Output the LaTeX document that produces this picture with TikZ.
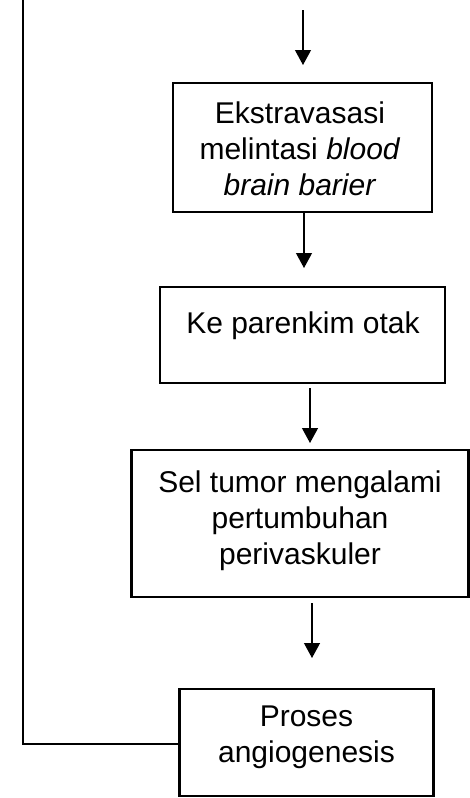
\documentclass[tikz,border=0pt]{standalone}
\usepackage{fontspec}
\setmainfont{Liberation Sans}
\usetikzlibrary{arrows.meta}
\begin{document}
\begin{tikzpicture}[x=1pt,y=-1pt,
  stepbox/.style={draw,line width=2.4pt,rectangle,inner sep=0pt},
  boxtext/.style={align=center,inner sep=0pt,font=\fontsize{30pt}{36pt}\selectfont},
  flow/.style={line width=1.2pt,-{Triangle[length=15pt,width=16pt]}},
  link/.style={line width=1.2pt}]
\useasboundingbox (0,0) rectangle (470,798);

% boxes (geometry only)
\node[stepbox,minimum width=259pt,minimum height=129pt] (b1) at (302.5,147.5) {};
\node[stepbox,minimum width=285pt,minimum height=96pt]  (b2) at (302.5,335) {};
\node[stepbox,minimum width=337pt,minimum height=147pt] (b3) at (300,523.5) {};
\node[stepbox,minimum width=254pt,minimum height=107pt] (b4) at (306.5,742.5) {};

% box texts
\node[boxtext] (t1) at (300,149) {Ekstravasasi\\melintasi \textit{blood}\\\textit{brain barier}};
\node[boxtext] (t2) at (303,326) {Ke parenkim otak};
\node[boxtext] (t3) at (300,520.5) {Sel tumor mengalami\\pertumbuhan\\perivaskuler};
\node[boxtext] (t4) at (306.5,737) {Proses\\angiogenesis};

% arrows between steps
\coordinate (in) at (303,10);
\draw[flow] (in) -- (303,65);
\draw[flow] (304,213) -- (304,268);
\draw[flow] (310,388) -- (310,443);
\draw[flow] (312,603) -- (312,658);

% feedback line on the left
\coordinate (corner) at (23,744);
\coordinate (top) at (23,0);
\draw[link] (b4.west |- corner) -- (corner) -- (top);
\end{tikzpicture}
\end{document}
